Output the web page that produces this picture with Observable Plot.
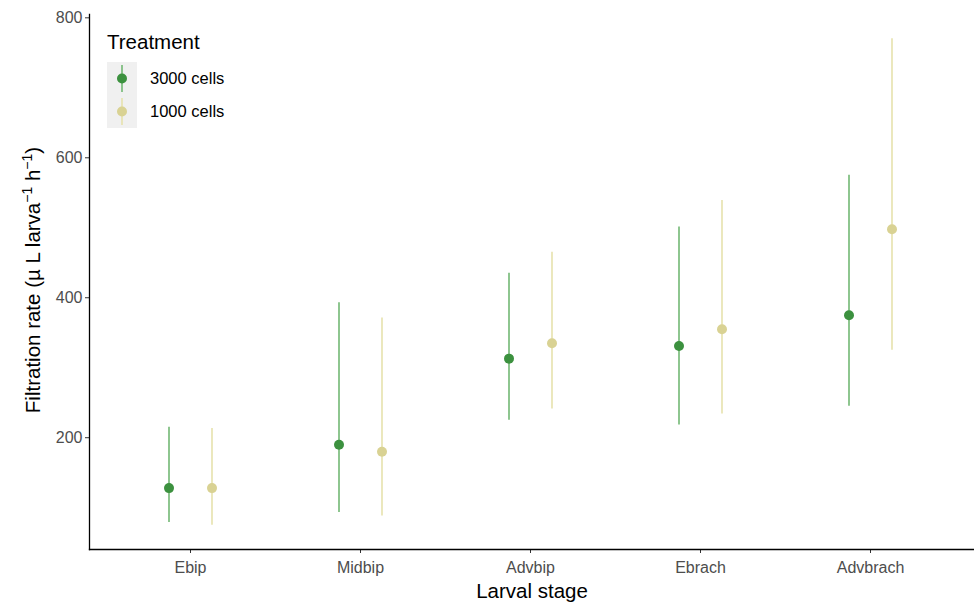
<!DOCTYPE html>
<html><head><meta charset="utf-8">
<script src="https://cdn.jsdelivr.net/npm/d3@7"></script>
<script src="https://cdn.jsdelivr.net/npm/@observablehq/plot@0.6"></script>
<style>
body{margin:0;background:#fff;font-family:"Liberation Sans",Arial,sans-serif;}
#wrap{position:relative;width:974px;height:603px;}
#legend{position:absolute;left:107px;top:30px;font-family:"Liberation Sans",Arial,sans-serif;}
#legend .title{font-size:20.5px;line-height:24px;color:#000;margin-bottom:8px;}
#legend .row{display:flex;align-items:center;height:33px;}
#legend .key{width:30px;height:33px;background:#f0f0f0;}
#legend .lab{font-size:16.5px;color:#000;margin-left:13px;}
</style></head>
<body><div id="wrap"><div id="chart"></div>
<div id="legend"></div></div>
<script>
const stages = ["Ebip","Midbip","Advbip","Ebrach","Advbrach"];
const treatments = ["3000 cells","1000 cells"];
const colorsPoint = ["#3c913f","#d9d293"];
const colorsLine = ["#72b874","#e6e2ad"];
const mean3000 = [128,190,313,331,375];
const low3000 = [79,93,225,218,245];
const high3000 = [215,393,435,501,575];
const mean1000 = [128,180,335,355,498];
const low1000 = [75,88,241,234,325];
const high1000 = [213,371,465,539,770];
const yTicks = [200,400,600,800];

const d3000 = stages.map((s,i)=>({stage:s,mean:mean3000[i],lo:low3000[i],hi:high3000[i]}));
const d1000 = stages.map((s,i)=>({stage:s,mean:mean1000[i],lo:low1000[i],hi:high1000[i]}));
const off = 21.5;

const plot = Plot.plot({
  width:974, height:603,
  marginLeft:89, marginRight:0, marginTop:14, marginBottom:54,
  style:{fontFamily:"Liberation Sans, Arial, sans-serif", background:"#fff"},
  x:{type:"point", domain:stages, padding:0.6, range:[86.5,974], label:null},
  y:{domain:[40.25,804.75], label:null},
  marks:[
    Plot.ruleX(d3000,{x:"stage",y1:"lo",y2:"hi",stroke:colorsLine[0],strokeWidth:1.6,dx:-off}),
    Plot.ruleX(d1000,{x:"stage",y1:"lo",y2:"hi",stroke:colorsLine[1],strokeWidth:1.6,dx:off}),
    Plot.dot(d3000,{x:"stage",y:"mean",fill:colorsPoint[0],r:5,dx:-off}),
    Plot.dot(d1000,{x:"stage",y:"mean",fill:colorsPoint[1],r:5,dx:off}),
    Plot.axisY({ticks:yTicks, tickSize:4, tickPadding:3, fontSize:16, color:"#4d4d4d", stroke:"#333", label:null}),
    Plot.axisX({tickSize:4, tickPadding:8, fontSize:16, color:"#4d4d4d", stroke:"#333", label:null}),
    Plot.frame({anchor:"left",stroke:"#000",strokeWidth:1.3}),
    Plot.frame({anchor:"bottom",stroke:"#000",strokeWidth:1.3}),
    Plot.text(["Larval stage"],{frameAnchor:"bottom",dy:48,fontSize:20.5,fill:"#000"})
  ]
});
document.getElementById("chart").appendChild(plot);

// y-axis title with real superscripts
const svg = d3.select(plot.tagName.toLowerCase()==="svg" ? plot : plot.querySelector("svg"));
const yt = svg.append("text")
  .attr("transform","translate(40,280) rotate(-90)")
  .attr("text-anchor","middle")
  .attr("font-size",20.5)
  .attr("font-family","Liberation Sans, Arial, sans-serif")
  .attr("fill","#000");
yt.append("tspan").text("Filtration rate (µ L larva");
yt.append("tspan").attr("font-size",14).attr("dy",-8).text("−1");
yt.append("tspan").attr("dy",8).text(" h");
yt.append("tspan").attr("font-size",14).attr("dy",-8).text("−1");
yt.append("tspan").attr("dy",8).text(")");

// legend
const lg = document.getElementById("legend");
const t = document.createElement("div"); t.className="title"; t.textContent="Treatment"; lg.appendChild(t);
treatments.forEach((tr,i)=>{
  const row=document.createElement("div"); row.className="row";
  const key=document.createElement("div"); key.className="key";
  key.innerHTML=`<svg width="30" height="33"><line x1="15" x2="15" y1="3" y2="30" stroke="${colorsLine[i]}" stroke-width="1.6"/><circle cx="15" cy="16.5" r="5" fill="${colorsPoint[i]}"/></svg>`;
  const lab=document.createElement("div"); lab.className="lab"; lab.textContent=tr;
  row.appendChild(key); row.appendChild(lab); lg.appendChild(row);
});
</script></body></html>
